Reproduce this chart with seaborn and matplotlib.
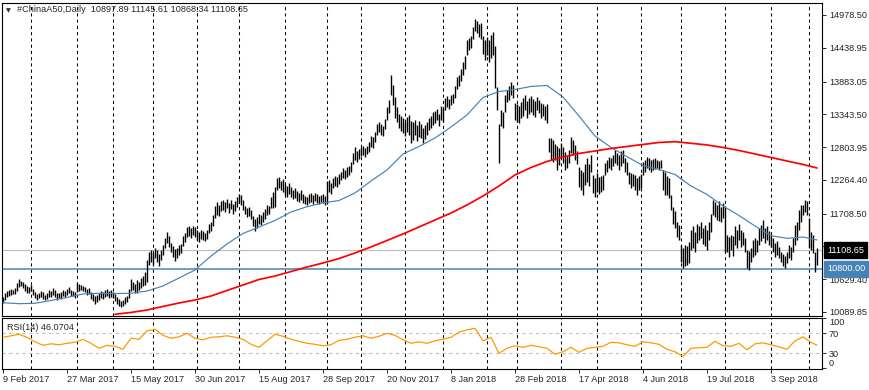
import numpy as np
import pandas as pd
import matplotlib
matplotlib.use("Agg")
import matplotlib.pyplot as plt
import matplotlib.transforms as mtransforms
import seaborn as sns

# daily bars, high / low, one value per trading day
highs = [
    10337, 10402, 10435, 10452, 10468, 10452, 10485, 10567, 10633, 10600,
    10583, 10551, 10518, 10501, 10534, 10468, 10419, 10386, 10402, 10435,
    10419, 10369, 10402, 10452, 10435, 10485, 10452, 10402, 10402, 10419,
    10452, 10435, 10468, 10501, 10452, 10435, 10419, 10567, 10551, 10534,
    10518, 10501, 10468, 10485, 10419, 10386, 10353, 10369, 10402, 10435,
    10419, 10452, 10468, 10435, 10452, 10419, 10386, 10337, 10304, 10271,
    10287, 10337, 10353, 10468, 10633, 10583, 10551, 10616, 10583, 10649,
    10682, 10748, 10946, 11077, 11110, 11061, 11143, 11110, 11044, 11110,
    11193, 11308, 11407, 11341, 11225, 11176, 11127, 11143, 11193, 11209,
    11341, 11390, 11489, 11505, 11472, 11505, 11489, 11439, 11407, 11439,
    11423, 11390, 11439, 11538, 11571, 11686, 11835, 11900, 11851, 11917,
    11933, 11900, 11950, 11884, 11933, 11867, 11917, 11983, 12032, 12016,
    11933, 11835, 11802, 11818, 11769, 11670, 11621, 11653, 11703, 11686,
    11736, 11785, 11851, 11835, 11983, 12065, 12147, 12295, 12312, 12246,
    12279, 12197, 12164, 12213, 12147, 12098, 12131, 12081, 12049, 12098,
    12032, 11999, 11983, 12032, 12049, 12016, 12049, 12032, 11999, 12016,
    12032, 11999, 12246, 12263, 12213, 12295, 12328, 12312, 12361, 12394,
    12460, 12427, 12477, 12493, 12559, 12707, 12806, 12740, 12773, 12806,
    12822, 12789, 12822, 12888, 12987, 12970, 13053, 13184, 13217, 13184,
    13151, 13267, 13464, 13579, 13991, 13826, 13629, 13464, 13349, 13316,
    13283, 13217, 13300, 13333, 13234, 13217, 13250, 13168, 13234, 13184,
    13119, 13168, 13217, 13283, 13316, 13382, 13398, 13431, 13349, 13481,
    13448, 13612, 13645, 13596, 13662, 13678, 13810, 13958, 13991, 14090,
    14205, 14304, 14567, 14600, 14633, 14781, 14913, 14880, 14830, 14847,
    14633, 14567, 14616, 14567, 14649, 14699, 14468, 13793, 13184, 13415,
    13382, 13662, 13744, 13810, 13876, 13826, 13530, 13514, 13481, 13546,
    13612, 13662, 13563, 13612, 13645, 13596, 13563, 13629, 13579, 13530,
    13514, 13481, 13514, 12954, 12954, 12921, 12855, 12822, 12789, 12872,
    12806, 12723, 12658, 12756, 12970, 12921, 12839, 12740, 12477, 12427,
    12394, 12526, 12625, 12526, 12674, 12345, 12295, 12378, 12312, 12328,
    12345, 12542, 12592, 12641, 12625, 12674, 12756, 12707, 12674, 12740,
    12756, 12625, 12559, 12394, 12378, 12361, 12345, 12295, 12328, 12361,
    12559, 12592, 12641, 12625, 12592, 12608, 12625, 12592, 12575, 12592,
    12427, 12394, 12328, 12295, 12016, 11818, 11752, 11571, 11522, 11193,
    11143, 11193, 11176, 11242, 11439, 11505, 11407, 11538, 11505, 11571,
    11472, 11522, 11439, 11571, 11703, 11933, 11900, 11851, 11917, 11818,
    11884, 11835, 11357, 11324, 11357, 11341, 11505, 11439, 11538, 11439,
    11407, 11308, 11110, 11094, 11143, 11275, 11308, 11275, 11472, 11522,
    11604, 11472, 11505, 11423, 11357, 11308, 11225, 11258, 11160, 11077,
    11044, 11011, 11077, 11193, 11160, 11308, 11522, 11571, 11769, 11851,
    11851, 11933, 11917, 11637, 11407, 11357, 11077, 11145.61,
]
lows = [
    10238, 10287, 10337, 10353, 10369, 10386, 10386, 10435, 10501, 10518,
    10485, 10435, 10402, 10402, 10435, 10369, 10320, 10287, 10320, 10337,
    10304, 10287, 10304, 10337, 10337, 10369, 10337, 10287, 10320, 10304,
    10353, 10337, 10369, 10402, 10353, 10353, 10320, 10419, 10435, 10452,
    10435, 10419, 10369, 10386, 10304, 10271, 10221, 10254, 10287, 10320,
    10304, 10337, 10353, 10320, 10337, 10320, 10271, 10221, 10188, 10172,
    10188, 10221, 10254, 10320, 10435, 10452, 10402, 10402, 10452, 10485,
    10518, 10534, 10583, 10863, 10913, 10863, 10979, 10913, 10847, 10946,
    11028, 11143, 11225, 11160, 11077, 10995, 10929, 10979, 11028, 11061,
    11176, 11242, 11324, 11341, 11308, 11357, 11324, 11275, 11242, 11291,
    11275, 11258, 11291, 11390, 11423, 11505, 11637, 11686, 11670, 11752,
    11769, 11736, 11802, 11719, 11785, 11703, 11752, 11818, 11884, 11851,
    11769, 11703, 11653, 11670, 11621, 11505, 11423, 11472, 11538, 11522,
    11571, 11621, 11686, 11703, 11802, 11802, 11818, 12098, 12131, 12098,
    12065, 12016, 11983, 12032, 11983, 11950, 11966, 11917, 11900, 11933,
    11884, 11867, 11851, 11884, 11900, 11867, 11917, 11884, 11867, 11900,
    11884, 11851, 11867, 12065, 12032, 12131, 12164, 12147, 12197, 12263,
    12295, 12279, 12312, 12345, 12394, 12526, 12592, 12559, 12608, 12658,
    12674, 12641, 12691, 12723, 12806, 12789, 12888, 13003, 13053, 13003,
    12987, 13102, 13250, 13365, 13662, 13497, 13283, 13217, 13119, 13069,
    13036, 12987, 13053, 13003, 12872, 12921, 13003, 12905, 12970, 12954,
    12872, 12937, 13003, 13086, 13119, 13168, 13201, 13250, 13151, 13250,
    13217, 13415, 13464, 13431, 13497, 13530, 13612, 13760, 13810, 13892,
    13991, 14090, 14320, 14402, 14435, 14583, 14715, 14682, 14616, 14583,
    14337, 14238, 14320, 14205, 14271, 14320, 13777, 13415, 12542, 13151,
    13119, 13382, 13546, 13579, 13662, 13612, 13250, 13217, 13201, 13283,
    13316, 13415, 13283, 13349, 13382, 13333, 13300, 13415, 13365, 13283,
    13316, 13250, 13201, 12723, 12592, 12559, 12592, 12427, 12509, 12625,
    12542, 12427, 12460, 12542, 12707, 12674, 12592, 12526, 12147, 12098,
    12016, 12180, 12230, 12164, 12394, 12049, 11983, 12065, 12032, 12065,
    12098, 12345, 12394, 12460, 12427, 12493, 12542, 12509, 12427, 12493,
    12542, 12394, 12345, 12197, 12131, 12164, 12098, 12016, 12098, 12131,
    12345, 12394, 12460, 12427, 12394, 12427, 12444, 12460, 12427, 12460,
    12098, 12016, 12016, 11966, 11769, 11538, 11472, 11324, 11275, 10913,
    10814, 10847, 10863, 10896, 11110, 11143, 11077, 11225, 11275, 11308,
    11209, 11176, 11110, 11275, 11407, 11686, 11653, 11604, 11588, 11571,
    11637, 11077, 11077, 10995, 11110, 11011, 11193, 11143, 11275, 11160,
    11193, 11077, 10814, 10781, 10913, 10995, 11028, 11077, 11193, 11258,
    11308, 11225, 11275, 11193, 11160, 11077, 10995, 11028, 10979, 10913,
    10847, 10814, 10896, 10979, 10946, 11077, 11193, 11275, 11439, 11571,
    11686, 11736, 11686, 11143, 11110, 11061, 10748, 10868.34,
]

# moving averages read every 8 bars (fast from bar 0, slow from bar 56)
ma_fast = [
    10243, 10226, 10233, 10279, 10329, 10386, 10398, 10394, 10398, 10435,
    10518, 10649, 10781, 11011, 11209, 11382, 11489, 11596, 11736, 11823,
    11884, 11925, 12049, 12246, 12427, 12691, 12814, 12954, 13135, 13333,
    13621, 13719, 13752, 13802, 13818, 13629, 13316, 12987, 12798, 12646,
    12501, 12436, 12353, 12164, 12024, 11835, 11678, 11505, 11346, 11303,
    11324, 11275,
]
ma_slow = [
    10052, 10082, 10123, 10181, 10238, 10287, 10353, 10444, 10534, 10625,
    10682, 10756, 10830, 10896, 10970, 11061, 11160, 11267, 11374, 11489,
    11604, 11719, 11851, 11999, 12164, 12345, 12468, 12567, 12641, 12699,
    12740, 12781, 12814, 12847, 12880, 12893, 12867, 12839, 12798, 12748,
    12691, 12633, 12575, 12518, 12460,
]
fast_bars = list(range(0, 401, 8)) + [407]
slow_bars = list(range(56, 401, 8)) + [407]

# RSI(14) read every 4 bars
rsi_vals = [
    62, 65, 68, 62, 53, 46, 49, 47, 50, 52,
    58, 50, 40, 46, 44, 38, 60, 58, 75, 78,
    66, 60, 63, 70, 60, 57, 62, 63, 65, 62,
    58, 48, 42, 55, 68, 64, 58, 54, 50, 48,
    45, 47, 56, 58, 62, 65, 60, 64, 70, 66,
    57, 50, 53, 50, 55, 58, 62, 72, 77, 80,
    55, 62, 30, 40, 45, 42, 46, 43, 40, 28,
    33, 42, 32, 40, 42, 44, 52, 51, 47, 44,
    53, 51, 48, 38, 33, 24, 40, 41, 42, 54,
    45, 44, 50, 37, 49, 51, 47, 43, 38, 55,
    63, 52, 46.07,
]
rsi_bars = list(range(0, 405, 4)) + [407]

date_labels = ["9 Feb 2017", "27 Mar 2017", "15 May 2017", "30 Jun 2017",
               "15 Aug 2017", "28 Sep 2017", "20 Nov 2017", "8 Jan 2018",
               "28 Feb 2018", "17 Apr 2018", "4 Jun 2018", "19 Jul 2018",
               "3 Sep 2018"]
label_bars = list(range(0, 385, 32))
month_starts = [14, 37, 55, 75, 97, 118, 141, 162, 179, 201, 220, 242,
                257, 279, 297, 319, 339, 361, 384, 403]
price_ticks = [10089.85, 10629.40, 11168.95, 11708.50, 12264.40,
               12803.95, 13343.50, 13883.05, 14438.95, 14978.50]
last_price = 11108.65
support = 10800.00

sns.set_style("white")
plt.rcParams['font.family'] = ['Liberation Sans', 'DejaVu Sans']
plt.rcParams['font.size'] = 6.6

fig = plt.figure(figsize=(8.7, 3.9), dpi=100)
W, H = 870, 390
ax = fig.add_axes([2 / W, 1 - 315.5 / H, 820 / W, 313 / H])
ax_rsi = fig.add_axes([2 / W, 1 - 368.5 / H, 820 / W, 51 / H], sharex=ax)

for a in (ax, ax_rsi):
    for s in a.spines.values():
        s.set_color('black')
        s.set_linewidth(0.8)
    for m in month_starts:
        a.axvline(m, color='black', lw=0.75, ls=(0, (3, 3)), zorder=1)

bar_idx = np.arange(len(highs))
ax.vlines(bar_idx, lows, highs, color='black', lw=1.0, zorder=3)
ax.axhline(last_price, color='#C0C0C0', lw=0.9, zorder=2)
ax.axhline(support, color='#4682B4', lw=1.1, zorder=2)
sns.lineplot(x=fast_bars, y=ma_fast, ax=ax, color='#4682B4', lw=0.85, zorder=4)
sns.lineplot(x=slow_bars, y=ma_slow, ax=ax, color='#FF0000', lw=1.25, zorder=4)

ax.set_xlim(-0.5, 409.5)
ax.set_ylim(10032, 15184)
ax.yaxis.tick_right()
ax.set_yticks(price_ticks)
ax.set_yticklabels([f"{v:.2f}" for v in price_ticks])
ax.tick_params(axis='y', direction='out', length=3, width=0.7, pad=2,
               labelsize=6.6, right=True, left=False)
ax.tick_params(axis='x', bottom=False, labelbottom=False)
ax.set_xlabel('')
ax.set_ylabel('')

blend = mtransforms.blended_transform_factory(ax.transAxes, ax.transData)
ax.text(1.006, last_price, f"{last_price:.2f}", transform=blend, color='white',
        va='center', ha='left', fontsize=6.6, zorder=10, clip_on=False,
        bbox=dict(boxstyle='square,pad=0.35', fc='black', ec='black'))
ax.text(1.006, support, f"{support:.2f}", transform=blend, color='white',
        va='center', ha='left', fontsize=6.6, zorder=10, clip_on=False,
        bbox=dict(boxstyle='square,pad=0.35', fc='#4682B4', ec='#4682B4'))

# RSI panel
sns.lineplot(x=rsi_bars, y=rsi_vals, ax=ax_rsi, color='#FF9900', lw=0.9, zorder=4)
ax_rsi.axhline(70, color='#C0C0C0', lw=0.8, ls=(0, (3, 3)), zorder=2)
ax_rsi.axhline(30, color='#C0C0C0', lw=0.8, ls=(0, (3, 3)), zorder=2)
ax_rsi.set_ylim(-0.4, 101.6)
ax_rsi.yaxis.tick_right()
ax_rsi.set_yticks([0, 30, 70, 100])
ax_rsi.set_yticklabels(['0', '30', '70', '100'])
ax_rsi.tick_params(axis='y', direction='out', length=3, width=0.7, pad=2,
                   labelsize=6.6, right=True, left=False)
ylabs = ax_rsi.get_yticklabels()
ylabs[0].set_va('bottom')
ylabs[3].set_va('top')
ax_rsi.set_xticks(label_bars)
ax_rsi.set_xticklabels(date_labels)
ax_rsi.tick_params(axis='x', direction='out', length=3, width=0.7, pad=1.5,
                   labelsize=6.6, bottom=True)
for lbl in ax_rsi.get_xticklabels():
    lbl.set_ha('left')
ax_rsi.set_xlim(-0.5, 409.5)
ax_rsi.set_xlabel('')
ax_rsi.set_ylabel('')

fig.text(6 / W, 1 - 10.5 / H, '\u25bc', fontsize=4.5, family='DejaVu Sans',
         va='center', ha='left')
fig.text(17 / W, 1 - 10 / H,
         '#ChinaA50,Daily  10897.89 11145.61 10868.34 11108.65',
         fontsize=6.6, va='center', ha='left')
fig.text(7 / W, 1 - 327 / H, 'RSI(14) 46.0704', fontsize=6.6,
         va='center', ha='left')

fig.savefig('out.png', dpi=100)
